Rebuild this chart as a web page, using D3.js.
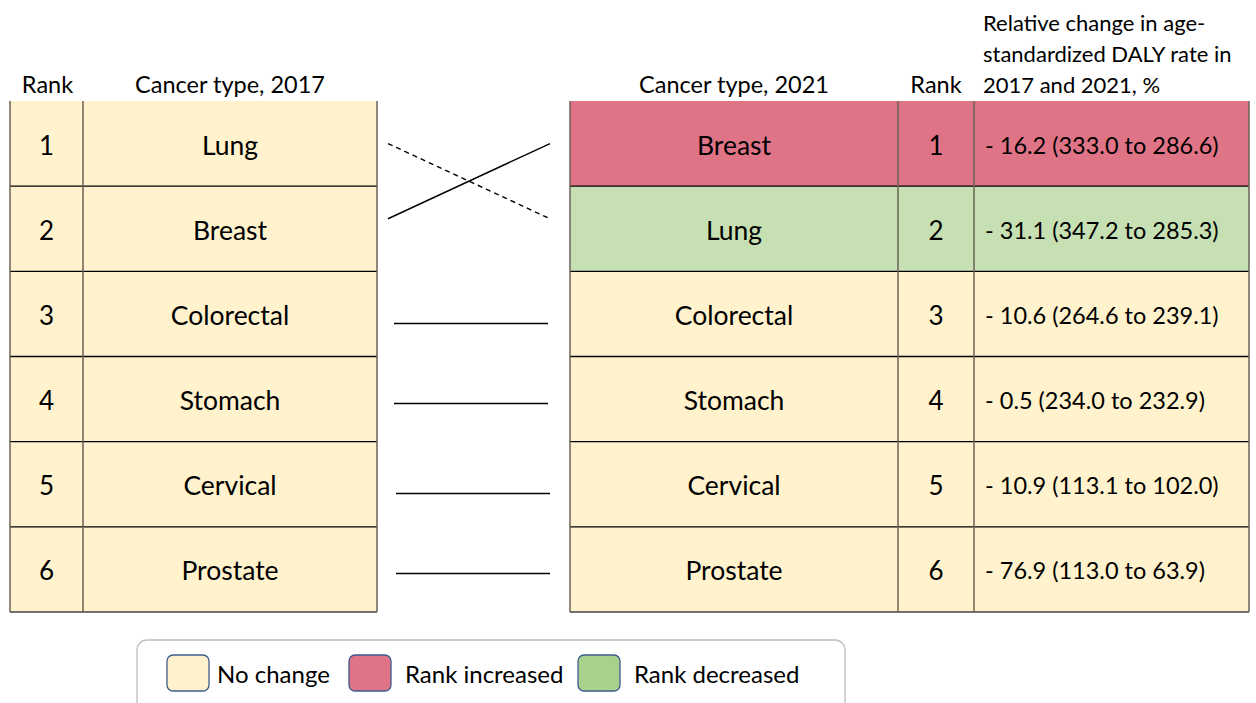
<!doctype html>
<html lang="en">
<head>
<meta charset="utf-8">
<title>Cancer rank change 2017 to 2021</title>
<script src="https://cdnjs.cloudflare.com/ajax/libs/d3/7.8.5/d3.min.js"></script>
<style>
  body { margin: 0; background: #fff; overflow: hidden; }
  svg text { font-family: Lato, "Open Sans", sans-serif; fill: #000; }
</style>
</head>
<body>
<script>

// data
var ranks = [1, 2, 3, 4, 5, 6];
var types2017 = ["Lung", "Breast", "Colorectal", "Stomach", "Cervical", "Prostate"];
var types2021 = ["Breast", "Lung", "Colorectal", "Stomach", "Cervical", "Prostate"];
var changePct = [-16.2, -31.1, -10.6, -0.5, -10.9, -76.9];
var rate2017 = [333.0, 347.2, 264.6, 234.0, 113.1, 113.0];
var rate2021 = [286.6, 285.3, 239.1, 232.9, 102.0, 63.9];
var status2021 = ["increased", "decreased", "none", "none", "none", "none"];
var legendLabels = ["No change", "Rank increased", "Rank decreased"];
var legendKeys = ["none", "increased", "decreased"];

var width = 1256, height = 703;

var cellFill = { none: "#fff2cc", increased: "#e07487", decreased: "#c6e0b4" };
var legendFill = { none: "#fff2cc", increased: "#e07487", decreased: "#a9d18e" };

var svg = d3.select("body").append("svg")
    .attr("width", width)
    .attr("height", height);

var y = d3.scaleBand()
    .domain(ranks)
    .range([101, 612]);

var rh = y.bandwidth();

// column edges
var left = { x0: 10, x1: 83, x2: 377 };
var right = { x0: 570, x1: 898, x2: 974, x3: 1249 };

function fmt(v) { return v.toFixed(1); }

// ---- left table (2017)
var lg = svg.append("g");
lg.selectAll("rect.bg").data(ranks).join("rect")
    .attr("x", left.x0).attr("y", d => y(d))
    .attr("width", left.x2 - left.x0).attr("height", rh)
    .attr("fill", cellFill.none);

lg.selectAll("text.rank").data(ranks).join("text")
    .attr("x", (left.x0 + left.x1) / 2).attr("y", d => y(d) + rh / 2 + 1)
    .attr("text-anchor", "middle").attr("dominant-baseline", "central")
    .attr("font-size", 26).text(d => d);

lg.selectAll("text.type").data(types2017).join("text")
    .attr("x", (left.x1 + left.x2) / 2).attr("y", (d, i) => y(ranks[i]) + rh / 2 + 1)
    .attr("text-anchor", "middle").attr("dominant-baseline", "central")
    .attr("font-size", 26.5).text(d => d);

// ---- right table (2021)
var rg = svg.append("g");
rg.selectAll("rect.bg").data(ranks).join("rect")
    .attr("x", right.x0).attr("y", d => y(d))
    .attr("width", right.x3 - right.x0).attr("height", rh)
    .attr("fill", (d, i) => cellFill[status2021[i]]);

rg.selectAll("text.type").data(types2021).join("text")
    .attr("x", (right.x0 + right.x1) / 2).attr("y", (d, i) => y(ranks[i]) + rh / 2 + 1)
    .attr("text-anchor", "middle").attr("dominant-baseline", "central")
    .attr("font-size", 26.5).text(d => d);

rg.selectAll("text.rank").data(ranks).join("text")
    .attr("x", (right.x1 + right.x2) / 2).attr("y", d => y(d) + rh / 2 + 1)
    .attr("text-anchor", "middle").attr("dominant-baseline", "central")
    .attr("font-size", 26).text(d => d);

rg.selectAll("text.chg").data(changePct).join("text")
    .attr("x", right.x2 + 11).attr("y", (d, i) => y(ranks[i]) + rh / 2 + 1)
    .attr("dominant-baseline", "central")
    .attr("font-size", 23.5)
    .text((d, i) => "- " + fmt(Math.abs(d)) + " (" + fmt(rate2017[i]) + " to " + fmt(rate2021[i]) + ")");

// grid lines: horizontal black, vertical grey
function grid(g, xs) {
  var x0 = xs[0], xN = xs[xs.length - 1];
  g.selectAll("line.h").data(ranks.slice(1)).join("line")
      .attr("x1", x0).attr("x2", xN)
      .attr("y1", d => y(d)).attr("y2", d => y(d))
      .attr("stroke", "#000").attr("stroke-width", 1.3);
  g.append("line")
      .attr("x1", x0).attr("x2", xN).attr("y1", 612).attr("y2", 612)
      .attr("stroke", "#444").attr("stroke-width", 1.3);
  g.selectAll("line.v").data(xs).join("line")
      .attr("x1", d => d).attr("x2", d => d)
      .attr("y1", 101).attr("y2", 612)
      .attr("stroke", "#6b6256").attr("stroke-width", 1.5);
}
grid(lg.append("g"), [left.x0, left.x1, left.x2]);
grid(rg.append("g"), [right.x0, right.x1, right.x2, right.x3]);

// ---- headers
var hdr = svg.append("g");
hdr.append("text").attr("x", (left.x0 + left.x1) / 2 + 1).attr("y", 93)
    .attr("text-anchor", "middle").attr("font-size", 23.5).text("Rank");
hdr.append("text").attr("x", (left.x1 + left.x2) / 2).attr("y", 93)
    .attr("text-anchor", "middle").attr("font-size", 23.5).text("Cancer type, 2017");
hdr.append("text").attr("x", (right.x0 + right.x1) / 2).attr("y", 93)
    .attr("text-anchor", "middle").attr("font-size", 23.5).text("Cancer type, 2021");
hdr.append("text").attr("x", (right.x1 + right.x2) / 2).attr("y", 93)
    .attr("text-anchor", "middle").attr("font-size", 23.5).text("Rank");
["Relative change in age-", "standardized DALY rate in", "2017 and 2021, %"].forEach(function (t, i) {
  hdr.append("text").attr("x", 983).attr("y", 31 + i * 31)
      .attr("font-size", 22).text(t);
});

// ---- connectors between rank positions
var idx2021 = types2017.map(t => types2021.indexOf(t));
var conn = svg.append("g");
types2017.forEach(function (t, i) {
  var j = idx2021[i];
  var moved = j !== i;
  var c0 = y(ranks[i]) + rh / 2, c1 = y(ranks[j]) + rh / 2;
  var ya, yb, xa, xb;
  if (moved) {
    ya = c0 + (j > i ? 0 : -10);
    yb = c1 + (j > i ? -10 : 0);
    xa = 388; xb = 550;
  } else {
    // hand-drawn lines sit a bit below the row centre
    ya = yb = Math.round(c0 + (i % 2 === 0 ? 9 : 4)) + 0.5;
    xa = i < 4 ? 394 : 396; xb = i < 4 ? 548 : 550;
  }
  conn.append("line")
      .attr("x1", xa).attr("y1", ya).attr("x2", xb).attr("y2", yb)
      .attr("stroke", "#000").attr("stroke-width", 1.4)
      .attr("stroke-dasharray", moved && j > i ? "5,4" : null);
});

// ---- legend
var leg = svg.append("g");
leg.append("rect")
    .attr("x", 137).attr("y", 640).attr("width", 708).attr("height", 80)
    .attr("rx", 10).attr("fill", "#fff").attr("stroke", "#bfbfbf").attr("stroke-width", 1.3);
var legX = [167, 349, 578];
legendKeys.forEach(function (k, i) {
  leg.append("rect")
      .attr("x", legX[i]).attr("y", 655).attr("width", 42).attr("height", 36)
      .attr("rx", 6).attr("fill", legendFill[k])
      .attr("stroke", "#3e5b8f").attr("stroke-width", 1.3);
  leg.append("text")
      .attr("x", legX[i] + (i === 0 ? 50 : 56)).attr("y", 673)
      .attr("dominant-baseline", "central").attr("font-size", 24)
      .text(legendLabels[i]);
});

</script>
</body>
</html>
